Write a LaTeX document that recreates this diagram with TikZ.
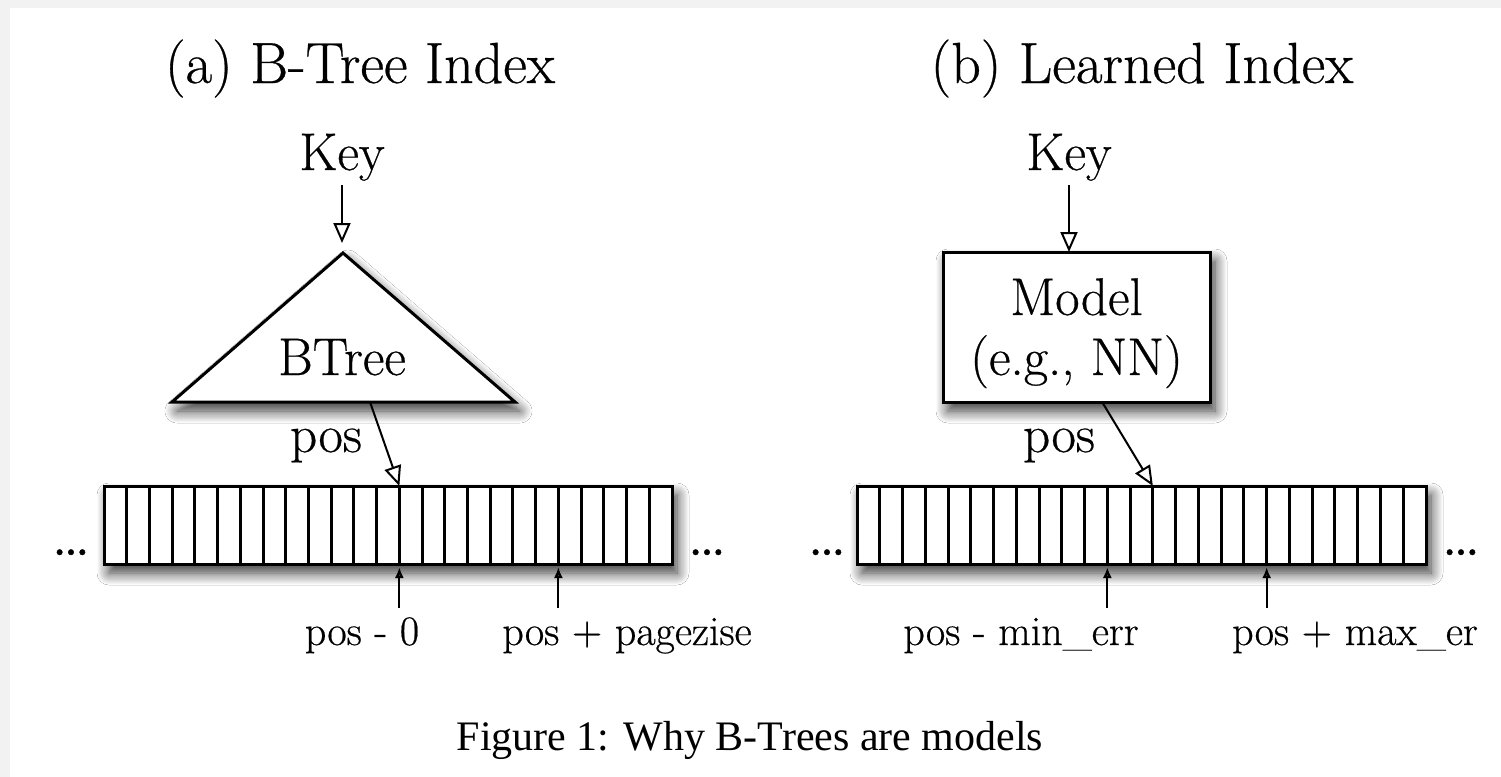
\documentclass[tikz,border=0pt]{standalone}
\usepackage{fontspec}
\setmainfont{Latin Modern Roman}[FakeBold=0.5]
\newfontfamily\capfont{Liberation Serif}
\usetikzlibrary{arrows.meta,calc,shadows.blur}
\begin{document}
\begin{tikzpicture}[x=0.5pt,y=-0.5pt,
  lbl/.style={font=\fontsize{26.5}{30}\selectfont, inner sep=0pt, anchor=base},
  ttl/.style={font=\fontsize{29}{34}\selectfont, inner sep=0pt, anchor=base},
  sml/.style={font=\fontsize{21}{25}\selectfont, inner sep=0pt, anchor=base},
  dots/.style={font=\fontsize{34}{40}\selectfont, inner sep=0pt, anchor=base},
  shd/.style={blur shadow={shadow xshift=2.5pt, shadow yshift=-4.5pt, shadow opacity=80, shadow blur radius=6pt, shadow blur steps=12}},
  arraybox/.style={draw, line width=1.5pt, fill=white, minimum height=39pt, inner sep=0pt, outer sep=0pt, shd},
  modelbox/.style={draw, line width=1.5pt, fill=white, minimum width=133.5pt, minimum height=75pt, inner sep=0pt, outer sep=0pt, align=center, font=\fontsize{26.5}{30}\selectfont, shd},
  cellline/.style={line width=1.5pt},
  openarr/.style={-{Triangle[open, length=10pt, width=8.5pt, line width=1pt]}, line width=1pt},
  uparr/.style={-{Latex[length=5.5pt,width=4.5pt]}, line width=1.1pt},
]
\useasboundingbox (0,0) rectangle (1501,777);
\fill[black!5] (0,0) rectangle (1501,777);
\fill[white] (10,8) rectangle (1501,777);

% ---------- (a) B-Tree Index ----------
\node[ttl] (ttlA) at (360,83) {(a) B-Tree Index};
\node[lbl] (keyA) at (342,170) {Key};
\coordinate (apexA) at (343,253);
\coordinate (blA) at (172,402);
\coordinate (brA) at (515,402);
\filldraw[fill=white, line width=1.5pt, line join=miter, shd] (apexA) -- (brA) -- (blA) -- cycle;
\node[lbl] (btree) at (342,375) {BTree};
\draw[openarr, shorten <=2pt, shorten >=5pt] (keyA.south) -- (keyA.south |- apexA);

\node[arraybox, minimum width=284pt] (arrA) at (388,525) {};
\foreach \i in {1,...,24}
  \draw[cellline] ($(arrA.north west)!\i/25!(arrA.north east)$) -- ($(arrA.south west)!\i/25!(arrA.south east)$);
\coordinate (nA13) at ($(arrA.north west)!13/25!(arrA.north east)$);
\coordinate (sA13) at ($(arrA.south west)!13/25!(arrA.south east)$);
\coordinate (sA20) at ($(arrA.south west)!20/25!(arrA.south east)$);
\coordinate (pstartA) at (370,402);
\draw[openarr] (pstartA) -- (nA13);
\node[lbl] (posA) at (326,452) {pos};

\coordinate (uA1) at ($(sA13)+(0,44)$);
\coordinate (uA2) at ($(sA20)+(0,44)$);
\draw[uparr, shorten >=1.5pt] (uA1) -- (sA13);
\draw[uparr, shorten >=1.5pt] (uA2) -- (sA20);
\node[sml] (lA1) at (362,645) {pos - 0};
\node[sml] (lA2) at (627,645) {pos + pagezise};
\node[dots] (dA1) at (71,555) {\ldots};
\node[dots] (dA2) at (707,555) {\ldots};

% ---------- (b) Learned Index ----------
\node[ttl] (ttlB) at (1142,83) {(b) Learned Index};
\node[lbl] (keyB) at (1069,170) {Key};
\node[modelbox] (model) at (1076.5,327) {\rule{0pt}{24.6pt}Model\\(e.g., NN)};
\draw[openarr, shorten <=2pt] (keyB.south) -- (keyB.south |- model.north);

\node[arraybox, minimum width=284.5pt] (arrB) at (1141.5,525) {};
\foreach \i in {1,...,24}
  \draw[cellline] ($(arrB.north west)!\i/25!(arrB.north east)$) -- ($(arrB.south west)!\i/25!(arrB.south east)$);
\coordinate (nB13) at ($(arrB.north west)!13/25!(arrB.north east)$);
\coordinate (sB11) at ($(arrB.south west)!11/25!(arrB.south east)$);
\coordinate (sB18) at ($(arrB.south west)!18/25!(arrB.south east)$);
\coordinate (mstart) at ($(model.south west)!0.596!(model.south east)$);
\draw[openarr] (mstart) -- (nB13);
\node[lbl] (posB) at (1059,452) {pos};

\coordinate (uB1) at ($(sB11)+(0,44)$);
\coordinate (uB2) at ($(sB18)+(0,44)$);
\draw[uparr, shorten >=1.5pt] (uB1) -- (sB11);
\draw[uparr, shorten >=1.5pt] (uB2) -- (sB18);
\node[sml] (lB1) at (1021,645) {pos - min\_err};
\node[sml] (lB2) at (1355,645) {pos + max\_er};
\node[dots] (dB1) at (827,555) {\ldots};
\node[dots] (dB2) at (1461,555) {\ldots};

% ---------- caption ----------
\node[font=\capfont\fontsize{21}{25}\selectfont, inner sep=0pt, anchor=base] (cap) at (750,750) {Figure 1: Why B-Trees are models};
\end{tikzpicture}
\end{document}
